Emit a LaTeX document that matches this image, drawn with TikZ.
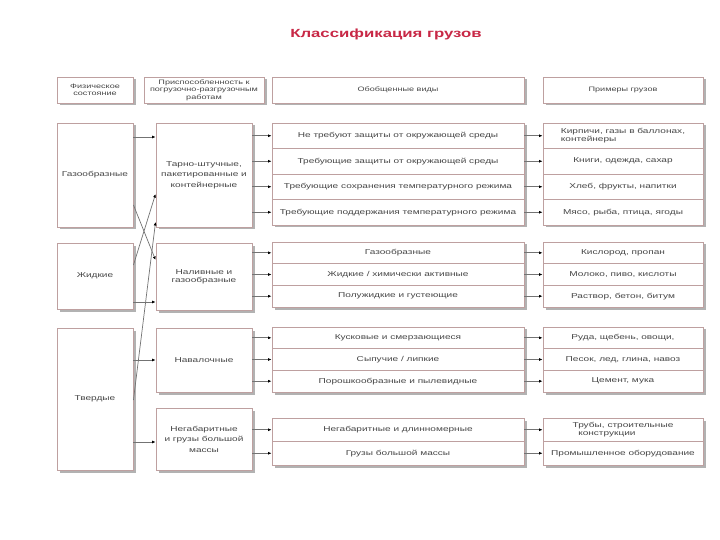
\documentclass[tikz,border=0pt]{standalone}
\usepackage{fontspec}
\setmainfont[FakeStretch=1.42]{Liberation Sans}
\usetikzlibrary{arrows.meta,shadows}
\definecolor{boxline}{RGB}{190,160,160}
\definecolor{titlered}{RGB}{200,40,70}
\definecolor{boxtext}{RGB}{70,70,70}
\tikzset{
  box/.style={draw=boxline, line width=0.9pt, fill=white, align=center, inner sep=1pt,
    text=boxtext, font=\fontsize{7.1}{8}\selectfont,
    drop shadow={shadow xshift=2.5pt, shadow yshift=-2.5pt, fill=black!30, opacity=1}},
  loose/.style={font=\fontsize{7.1}{10.5}\selectfont},
  head/.style={box, minimum height=26pt, font=\fontsize{6.4}{7.6}\selectfont},
  kind/.style={box, minimum width=252pt},
  example/.style={box, minimum width=160pt},
  link/.style={-{Latex[length=3.5pt,width=3pt,color=black]}, draw=black!55, line width=0.7pt},
}
\begin{document}
\begin{tikzpicture}[x=1pt, y=-1pt]
    \useasboundingbox[fill=white] (0,0) rectangle (720,540);
    \node[font=\fontsize{11.8}{14}\selectfont\bfseries, text=titlered] (title) at (386,34) {Классификация грузов};

    % header row
    \draw node[head, minimum width=76pt] (head1) at (95,90) {Физическое\\состояние};
    \draw node[head, minimum width=120pt] (head2) at (204,90) {Приспособленность к\\погрузочно-разгрузочным\\работам};
    \draw node[head, minimum width=252pt] (head3) at (398,90) {Обобщенные виды};
    \draw node[head, minimum width=160pt] (head4) at (623,90) {Примеры грузов};

    % physical state
    \draw node[box, minimum width=76pt, minimum height=104pt] (state1) at (95,175) {Газообразные};
    \draw node[box, minimum width=76pt, minimum height=66pt] (state2) at (95,276) {Жидкие};
    \draw node[box, minimum width=76pt, minimum height=142pt] (state3) at (95,399) {Твердые};

    % handling
    \draw node[box, loose, minimum width=96pt, minimum height=104pt] (load1) at (204,175) {Тарно-штучные,\\пакетированные и\\контейнерные};
    \draw node[box, minimum width=96pt, minimum height=67pt] (load2) at (204,276.5) {Наливные и\\газообразные};
    \draw node[box, minimum width=96pt, minimum height=64pt] (load3) at (204,360) {Навалочные};
    \draw node[box, loose, minimum width=96pt, minimum height=62pt] (load4) at (204,439) {Негабаритные\\и грузы большой\\массы};

    % generalized kinds
    \draw node[kind, minimum height=25.5pt] (kind11) at (398,135.75) {Не требуют защиты от окружающей среды};
    \draw node[kind, minimum height=25.5pt] (kind12) at (398,161.25) {Требующие защиты от окружающей среды};
    \draw node[kind, minimum height=25.5pt] (kind13) at (398,186.75) {Требующие сохранения температурного режима};
    \draw node[kind, minimum height=25.5pt] (kind14) at (398,212.25) {Требующие поддержания температурного режима};
    \draw node[kind, minimum height=21.7pt] (kind21) at (398,252.8) {Газообразные};
    \draw node[kind, minimum height=21.7pt] (kind22) at (398,274.5) {Жидкие / химически активные};
    \draw node[kind, minimum height=21.7pt] (kind23) at (398,296.2) {Полужидкие и густеющие};
    \draw node[kind, minimum height=21.7pt] (kind31) at (398,337.8) {Кусковые и смерзающиеся};
    \draw node[kind, minimum height=21.7pt] (kind32) at (398,359.5) {Сыпучие / липкие};
    \draw node[kind, minimum height=21.7pt] (kind33) at (398,381.2) {Порошкообразные и пылевидные};
    \draw node[kind, minimum height=23.5pt] (kind41) at (398,429.75) {Негабаритные и длинномерные};
    \draw node[kind, minimum height=23.5pt] (kind42) at (398,453.25) {Грузы большой массы};

    % examples
    \draw node[example, minimum height=25.5pt, align=left] (ex11) at (623,135.75) {Кирпичи, газы в баллонах,\\контейнеры};
    \draw node[example, minimum height=25.5pt] (ex12) at (623,161.25) {Книги, одежда, сахар};
    \draw node[example, minimum height=25.5pt] (ex13) at (623,186.75) {Хлеб, фрукты, напитки};
    \draw node[example, minimum height=25.5pt] (ex14) at (623,212.25) {Мясо, рыба, птица, ягоды};
    \draw node[example, minimum height=21.7pt] (ex21) at (623,252.8) {Кислород, пропан};
    \draw node[example, minimum height=21.7pt] (ex22) at (623,274.5) {Молоко, пиво, кислоты};
    \draw node[example, minimum height=21.7pt] (ex23) at (623,296.2) {Раствор, бетон, битум};
    \draw node[example, minimum height=21.7pt] (ex31) at (623,337.8) {Руда, щебень, овощи,};
    \draw node[example, minimum height=21.7pt] (ex32) at (623,359.5) {Песок, лед, глина, навоз};
    \draw node[example, minimum height=21.7pt] (ex33) at (623,381.2) {Цемент, мука};
    \draw node[example, minimum height=23.5pt, align=left] (ex41) at (623,429.75) {Трубы, строительные\\\ \ конструкции};
    \draw node[example, minimum height=23.5pt] (ex42) at (623,453.25) {Промышленное оборудование};

    % state to handling
    \draw[link] (state1.east |- 0,137) to (load1.west |- 0,137);
    \draw[link] (state1.east |- 0,205) to (load2.west |- 0,260);
    \draw[link] (state2.east |- 0,265) to (load1.west |- 0,194);
    \draw[link] (state2.east |- 0,302) to (load2.west |- 0,302);
    \draw[link] (state3.east |- 0,400) to (load1.west |- 0,222);
    \draw[link] (state3.east |- 0,360) to (load3.west |- 0,360);
    \draw[link] (state3.east |- 0,442) to (load4.west |- 0,442);

    % handling to kinds
    \draw[link] (load1.east |- kind11) to (kind11.west);
    \draw[link] (load1.east |- kind12) to (kind12.west);
    \draw[link] (load1.east |- kind13) to (kind13.west);
    \draw[link] (load1.east |- kind14) to (kind14.west);
    \draw[link] (load2.east |- kind21) to (kind21.west);
    \draw[link] (load2.east |- kind22) to (kind22.west);
    \draw[link] (load2.east |- kind23) to (kind23.west);
    \draw[link] (load3.east |- kind31) to (kind31.west);
    \draw[link] (load3.east |- kind32) to (kind32.west);
    \draw[link] (load3.east |- kind33) to (kind33.west);
    \draw[link] (load4.east |- kind41) to (kind41.west);
    \draw[link] (load4.east |- kind42) to (kind42.west);

    % kinds to examples
    \draw[link] (kind11.east) to (ex11.west);
    \draw[link] (kind12.east) to (ex12.west);
    \draw[link] (kind13.east) to (ex13.west);
    \draw[link] (kind14.east) to (ex14.west);
    \draw[link] (kind21.east) to (ex21.west);
    \draw[link] (kind22.east) to (ex22.west);
    \draw[link] (kind23.east) to (ex23.west);
    \draw[link] (kind31.east) to (ex31.west);
    \draw[link] (kind32.east) to (ex32.west);
    \draw[link] (kind33.east) to (ex33.west);
    \draw[link] (kind41.east) to (ex41.west);
    \draw[link] (kind42.east) to (ex42.west);
\end{tikzpicture}
\end{document}
